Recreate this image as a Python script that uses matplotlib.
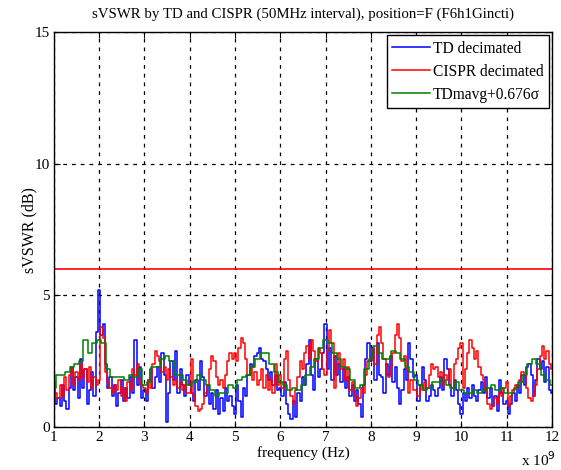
import numpy as np
import matplotlib
matplotlib.use('Agg')
import matplotlib.pyplot as plt

# frequency grid in units of 1e9 Hz
freq = np.round(np.arange(1.0, 12.0001, 0.05), 2)
freq_avg = np.round(np.arange(1.0, 12.0001, 0.1), 2)

td_decimated = [
    1.4, 0.9, 1.1, 0.8, 1.6, 1.0, 0.7, 1.5, 2.3, 1.4, 1.9, 1.1, 2.6, 1.5, 2.2, 0.9, 1.4, 2.1, 1.2, 3.6,
    5.2, 3.5, 3.9, 2.4, 1.5, 1.9, 1.2, 1.6, 0.8, 1.3, 1.8, 1.0, 1.5, 1.1, 1.9, 1.3, 3.3, 1.6, 2.3, 1.1,
    1.4, 1.0, 1.8, 2.2, 1.5, 1.9, 2.3, 1.7, 2.8, 2.0, 0.2, 1.3, 2.5, 1.8, 2.9, 1.3, 2.2, 1.6, 1.2, 2.0,
    1.6, 1.3, 1.0, 1.8, 1.4, 2.5, 1.9, 1.2, 1.6, 0.9, 1.3, 0.7, 1.4, 0.5, 1.1, 0.6, 1.5, 1.0, 1.2, 0.8,
    0.5, 1.6, 1.0, 0.4, 1.5, 1.2, 2.0, 2.4, 2.3, 2.7, 2.8, 3.0, 2.6, 2.5, 2.2, 1.8, 2.1, 1.6, 2.0, 1.4,
    1.5, 1.2, 1.7, 0.9, 0.5, 0.3, 1.0, 0.4, 1.3, 1.0, 1.9, 1.6, 2.4, 3.3, 2.0, 1.4, 2.6, 1.9, 2.2, 2.8,
    3.9, 2.2, 3.0, 1.8, 2.7, 2.0, 2.4, 1.7, 2.2, 1.5, 1.9, 1.2, 1.6, 1.0, 1.4, 0.9, 0.4, 1.6, 2.6, 3.2,
    2.5, 3.0, 1.8, 3.2, 2.0, 1.9, 1.3, 2.4, 2.0, 2.7, 1.7, 2.3, 1.5, 0.9, 1.4, 2.2, 1.8, 3.2, 2.6, 1.9,
    2.0, 1.0, 1.6, 2.3, 1.8, 1.0, 1.2, 1.6, 1.4, 1.2, 1.5, 1.9, 1.4, 2.6, 2.2, 1.6, 1.2, 1.8, 1.4, 0.9,
    0.5, 1.3, 1.0, 1.5, 1.1, 1.6, 1.2, 1.0, 1.4, 1.7, 1.3, 1.9, 1.1, 1.5, 0.8, 1.2, 0.6, 1.8, 1.3, 0.9,
    1.0, 0.5, 0.9, 1.3, 1.0, 1.6, 1.3, 2.0, 1.6, 2.3, 2.4, 2.0, 1.2, 1.8, 2.6, 2.2, 2.5, 1.7, 2.3, 1.4, 1.3,
]

cispr_decimated = [
    1.7, 1.3, 1.1, 1.6, 1.2, 1.9, 1.4, 2.0, 2.3, 1.6, 2.1, 1.8, 2.4, 1.9, 2.2, 1.7, 2.3, 1.5, 1.9, 1.6,
    1.8, 3.8, 3.4, 2.1, 1.7, 1.5, 1.3, 1.6, 1.4, 1.8, 1.2, 1.5, 1.0, 1.7, 1.4, 2.2, 2.0, 2.4, 1.8, 1.6,
    1.5, 1.3, 1.8, 1.5, 2.4, 2.9, 2.7, 2.5, 2.1, 2.3, 1.8, 2.2, 1.9, 1.6, 1.8, 1.5, 1.7, 1.4, 1.6, 1.3,
    1.3, 2.6, 1.2, 0.8, 0.6, 0.7, 0.9, 1.3, 1.6, 2.2, 2.7, 2.5, 1.9, 1.6, 1.8, 1.5, 2.0, 2.5, 2.8, 2.6,
    2.8, 2.5, 3.0, 3.4, 3.2, 2.6, 2.0, 2.3, 1.8, 2.1, 1.6, 1.8, 2.2, 1.5, 2.0, 1.4, 1.8, 1.3, 2.4, 1.6,
    2.0, 1.5, 2.6, 2.9, 1.8, 1.2, 0.9, 1.4, 1.9, 2.5, 2.2, 2.8, 3.1, 2.6, 3.3, 2.9, 2.5, 3.0, 2.8, 2.2,
    2.0, 2.9, 3.7, 3.2, 1.5, 2.4, 2.8, 2.2, 2.6, 1.8, 2.3, 1.4, 1.7, 1.2, 0.8, 1.1, 1.5, 1.3, 2.0, 2.5,
    2.6, 3.0, 2.4, 3.5, 3.8, 3.2, 2.6, 2.0, 1.9, 2.3, 2.8, 3.5, 3.9, 3.4, 2.5, 2.7, 2.2, 1.3, 1.8, 1.4,
    1.4, 1.2, 1.6, 1.4, 1.7, 1.5, 2.0, 2.4, 2.2, 2.3, 1.9, 2.1, 1.6, 2.0, 1.8, 2.2, 1.5, 2.4, 2.6, 3.0,
    3.2, 1.5, 2.2, 2.8, 3.3, 3.0, 2.6, 2.9, 2.3, 2.0, 1.8, 1.4, 0.9, 0.7, 0.8, 1.1, 0.9, 1.3, 1.2, 1.5,
    1.7, 0.8, 1.2, 1.4, 1.6, 1.5, 1.8, 2.1, 2.0, 1.5, 1.1, 1.0, 1.2, 1.6, 2.2, 2.7, 3.1, 2.6, 2.9, 2.4, 2.2,
]

td_mavg = [
    1.5, 2.0, 2.0, 2.1, 2.3, 2.4, 2.5, 3.3, 2.8, 3.2,
    3.3, 3.2, 2.2, 1.9, 1.9, 1.9, 1.8, 2.0, 1.9, 2.2,
    1.6, 1.7, 2.3, 2.3, 2.6, 2.7, 2.5, 2.0, 2.0, 1.8,
    1.6, 1.7, 2.0, 1.8, 1.6, 1.4, 1.2, 1.3, 1.3, 1.6,
    1.5, 1.8, 1.9, 2.0, 2.3, 2.6, 2.8, 2.8, 2.4, 2.1,
    1.7, 1.6, 1.4, 1.5, 1.4, 1.6, 2.0, 2.3, 2.6, 3.0,
    3.3, 3.2, 2.8, 2.6, 2.3, 2.2, 1.8, 1.5, 1.6, 2.2,
    2.6, 3.1, 2.8, 2.6, 2.6, 2.9, 2.8, 2.6, 2.3, 2.1,
    1.8, 1.6, 1.4, 1.5, 1.7, 1.7, 1.8, 1.6, 1.5, 1.7,
    1.4, 1.3, 1.3, 1.4, 1.3, 1.4, 1.5, 1.6, 1.4, 1.5,
    1.3, 1.3, 1.5, 1.7, 2.0, 2.4, 2.6, 2.4, 2.0, 1.8, 1.6,
]

cispr_limit = 6.0

plt.rcParams['font.family'] = ['Liberation Serif', 'DejaVu Serif']

fig = plt.figure(figsize=(5.61, 4.70), dpi=100)
ax = fig.add_axes([0.096, 0.091, 0.888, 0.841])

ax.plot(freq, td_decimated, color='#0000ff', lw=1.1, drawstyle='steps-mid', label='TD decimated')
ax.plot(freq, cispr_decimated, color='#ff0000', lw=1.1, drawstyle='steps-mid', label='CISPR decimated')
ax.plot(freq_avg, td_mavg, color='#008000', lw=1.1, drawstyle='steps-mid', label='TDmavg+0.676\u03c3')
ax.axhline(cispr_limit, color='#ff0000', lw=1.2)

ax.set_xlim(1, 12)
ax.set_ylim(0, 15)
ax.set_xticks(range(1, 13))
ax.set_yticks([0, 5, 10, 15])
ax.tick_params(direction='in', top=True, right=True, labelsize=11, length=4, pad=3)
ax.grid(True, color='black', linestyle=(0, (3, 4)), linewidth=0.9)
for s in ax.spines.values():
    s.set_linewidth(1.0)

ax.set_title('sVSWR by TD and CISPR (50MHz interval), position=F (F6h1Gincti)', fontsize=10.7, pad=10)
ax.set_xlabel('frequency (Hz)', fontsize=11, labelpad=1)
ax.set_ylabel('sVSWR (dB)', fontsize=11.5, labelpad=-2)
fig.text(0.99, 0.022, r'x 10$^9$', ha='right', va='center', fontsize=11)

leg = ax.legend(loc='upper right', fontsize=11.2, fancybox=False, framealpha=1,
                edgecolor='black', borderaxespad=0.2, handlelength=2.4, handletextpad=0.2,
                labelspacing=0.45, borderpad=0.35)
leg.get_frame().set_linewidth(1.0)

fig.savefig('out.png', dpi=100)
